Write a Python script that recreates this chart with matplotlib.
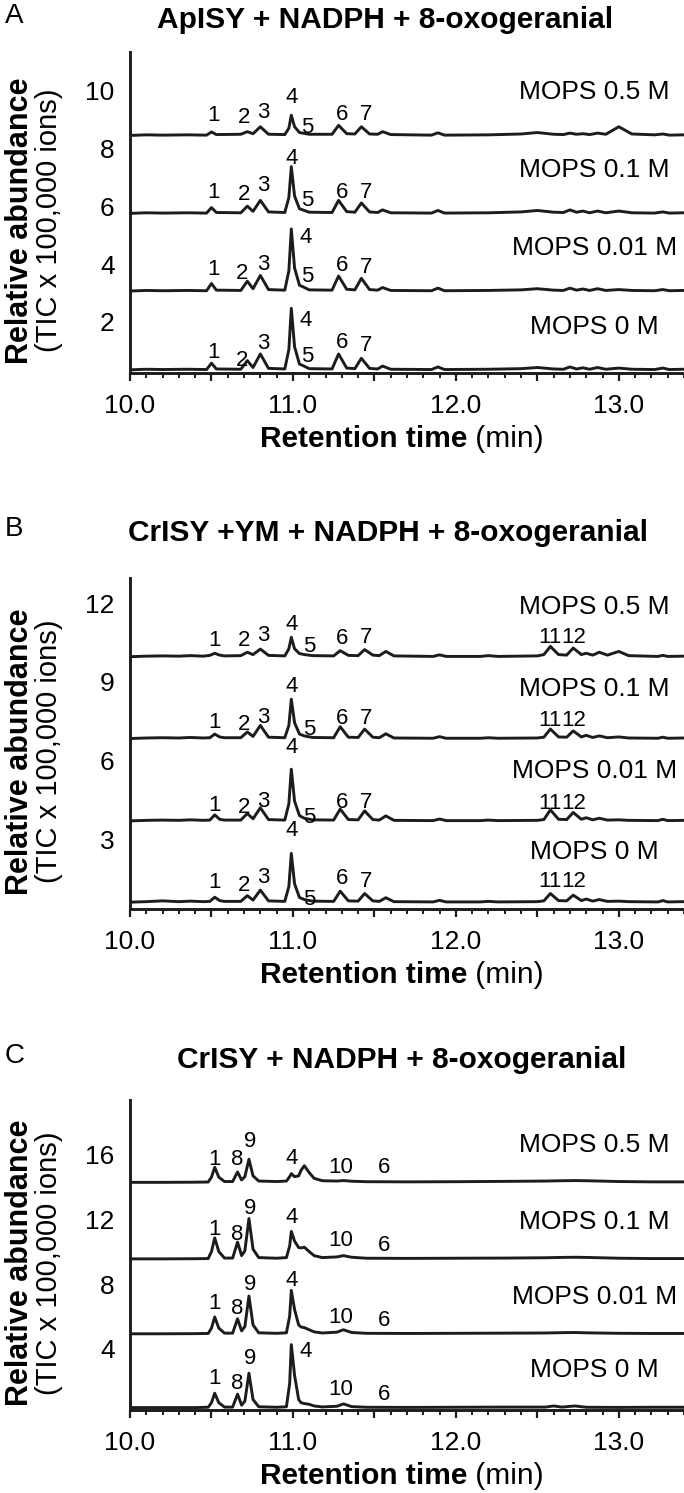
import matplotlib.pyplot as plt
from matplotlib.ticker import MultipleLocator

plt.rcParams['font.family'] = ['Liberation Sans', 'DejaVu Sans']

W, H = 684, 1493

# ---------------- data ----------------
conditions = ['MOPS 0 M', 'MOPS 0.01 M', 'MOPS 0.1 M', 'MOPS 0.5 M']

# panel A: ApISY
tA = [10.00, 10.10, 10.20, 10.35, 10.47, 10.50, 10.53, 10.68, 10.72, 10.755,
      10.80, 10.85, 10.95, 10.975, 10.99, 11.01, 11.04, 11.06, 11.10, 11.24,
      11.28, 11.33, 11.38, 11.42, 11.47, 11.52, 11.55, 11.60, 11.85, 11.89,
      11.93, 12.20, 12.40, 12.50, 12.60, 12.66, 12.70, 12.74, 12.78, 12.82,
      12.87, 12.92, 13.00, 13.08, 13.22, 13.27, 13.31, 13.40]
baseA = [0.34, 3.07, 5.76, 8.46]
A_0M = [0.00, 0.02, 0.01, 0.02, 0.01, 0.23, 0.03, 0.02, 0.32, 0.08,
        0.55, 0.05, 0.03, 0.70, 2.13, 0.80, 0.20, 0.15, 0.04, 0.03,
        0.55, 0.06, 0.04, 0.40, 0.05, 0.03, 0.13, 0.02, 0.01, 0.10,
        0.01, 0.02, 0.04, 0.08, 0.03, 0.02, 0.10, 0.03, 0.07, 0.02,
        0.08, 0.02, 0.06, 0.02, 0.01, 0.06, 0.01, 0.02]
A_001M = [0.00, 0.02, 0.01, 0.02, 0.01, 0.26, 0.03, 0.02, 0.34, 0.08,
          0.54, 0.05, 0.03, 0.70, 2.15, 0.80, 0.20, 0.15, 0.04, 0.03,
          0.52, 0.06, 0.04, 0.44, 0.05, 0.03, 0.12, 0.02, 0.01, 0.10,
          0.01, 0.02, 0.04, 0.08, 0.03, 0.02, 0.10, 0.03, 0.07, 0.02,
          0.08, 0.02, 0.05, 0.02, 0.01, 0.05, 0.01, 0.02]
A_01M = [0.00, 0.02, 0.01, 0.02, 0.01, 0.20, 0.03, 0.02, 0.25, 0.07,
         0.45, 0.05, 0.03, 0.55, 1.62, 0.60, 0.16, 0.12, 0.04, 0.03,
         0.45, 0.06, 0.04, 0.36, 0.05, 0.03, 0.12, 0.02, 0.01, 0.10,
         0.01, 0.02, 0.05, 0.10, 0.04, 0.03, 0.12, 0.04, 0.08, 0.02,
         0.08, 0.02, 0.08, 0.02, 0.01, 0.05, 0.01, 0.02]
A_05M = [0.00, 0.02, 0.01, 0.02, 0.01, 0.12, 0.03, 0.04, 0.13, 0.06,
         0.30, 0.04, 0.03, 0.25, 0.70, 0.30, 0.10, 0.08, 0.04, 0.04,
         0.35, 0.06, 0.05, 0.30, 0.05, 0.04, 0.13, 0.03, 0.01, 0.09,
         0.01, 0.02, 0.05, 0.10, 0.04, 0.03, 0.08, 0.04, 0.06, 0.03,
         0.08, 0.04, 0.30, 0.05, 0.02, 0.05, 0.01, 0.02]

# panel B: CrISY + YM
tB = [10.00, 10.10, 10.20, 10.30, 10.37, 10.45, 10.49, 10.52, 10.55, 10.58,
      10.68, 10.72, 10.755, 10.80, 10.85, 10.95, 10.975, 10.99, 11.01, 11.04,
      11.07, 11.12, 11.25, 11.29, 11.34, 11.40, 11.44, 11.49, 11.53, 11.57,
      11.62, 11.86, 11.90, 11.94, 12.15, 12.20, 12.26, 12.50, 12.54, 12.58,
      12.63, 12.68, 12.72, 12.77, 12.80, 12.84, 12.88, 12.93, 13.00, 13.06,
      13.24, 13.27, 13.30, 13.40]
baseB = [0.60, 3.70, 6.84, 9.96]
B_0M = [0.00, 0.02, 0.05, 0.02, 0.04, 0.02, 0.03, 0.19, 0.06, 0.03,
        0.03, 0.25, 0.08, 0.46, 0.05, 0.03, 0.60, 1.86, 0.70, 0.18,
        0.10, 0.04, 0.03, 0.42, 0.05, 0.04, 0.33, 0.05, 0.03, 0.17,
        0.02, 0.01, 0.07, 0.01, 0.01, 0.03, 0.01, 0.02, 0.05, 0.33,
        0.06, 0.05, 0.27, 0.06, 0.12, 0.04, 0.10, 0.03, 0.04, 0.02,
        0.01, 0.06, 0.01, 0.02]
B_001M = [0.00, 0.02, 0.03, 0.02, 0.04, 0.02, 0.03, 0.23, 0.06, 0.03,
          0.03, 0.28, 0.08, 0.50, 0.05, 0.03, 0.65, 1.97, 0.75, 0.20,
          0.10, 0.04, 0.03, 0.45, 0.05, 0.04, 0.38, 0.05, 0.03, 0.19,
          0.02, 0.01, 0.07, 0.01, 0.01, 0.03, 0.01, 0.02, 0.05, 0.42,
          0.06, 0.05, 0.32, 0.06, 0.12, 0.04, 0.10, 0.03, 0.04, 0.02,
          0.01, 0.06, 0.01, 0.02]
B_01M = [0.00, 0.02, 0.03, 0.02, 0.04, 0.02, 0.03, 0.17, 0.06, 0.03,
         0.03, 0.25, 0.08, 0.50, 0.05, 0.03, 0.50, 1.50, 0.60, 0.17,
         0.10, 0.04, 0.03, 0.45, 0.05, 0.04, 0.36, 0.05, 0.03, 0.18,
         0.02, 0.01, 0.07, 0.01, 0.01, 0.03, 0.01, 0.02, 0.05, 0.36,
         0.06, 0.05, 0.29, 0.06, 0.12, 0.04, 0.10, 0.03, 0.06, 0.02,
         0.01, 0.05, 0.01, 0.02]
B_05M = [0.00, 0.02, 0.03, 0.02, 0.04, 0.02, 0.05, 0.13, 0.06, 0.03,
         0.04, 0.17, 0.08, 0.29, 0.05, 0.03, 0.30, 0.74, 0.30, 0.12,
         0.08, 0.04, 0.03, 0.23, 0.05, 0.04, 0.27, 0.06, 0.04, 0.20,
         0.03, 0.01, 0.07, 0.01, 0.01, 0.04, 0.01, 0.03, 0.08, 0.39,
         0.08, 0.06, 0.33, 0.08, 0.13, 0.06, 0.17, 0.06, 0.20, 0.04,
         0.01, 0.05, 0.01, 0.02]

# panel C: CrISY
tC = [10.00, 10.20, 10.40, 10.48, 10.50, 10.52, 10.545, 10.58, 10.63, 10.66,
      10.685, 10.705, 10.73, 10.755, 10.79, 10.90, 10.96, 10.98, 10.99, 11.01,
      11.035, 11.05, 11.07, 11.10, 11.13, 11.18, 11.27, 11.31, 11.36, 11.45,
      11.70, 12.00, 12.30, 12.55, 12.60, 12.65, 12.73, 12.80, 13.00, 13.20,
      13.40]
baseC = [0.35, 4.92, 9.56, 14.30]
C_0M = [0.00, 0.00, 0.00, 0.02, 0.30, 0.89, 0.30, 0.03, 0.03, 0.83,
        0.15, 0.40, 2.13, 0.50, 0.05, 0.02, 0.05, 1.50, 3.90, 2.00,
        0.50, 0.30, 0.25, 0.20, 0.10, 0.04, 0.08, 0.23, 0.06, 0.02,
        0.01, 0.02, 0.03, 0.03, 0.10, 0.03, 0.10, 0.02, 0.01, 0.02, 0.02]
C_001M = [0.00, 0.00, 0.01, 0.02, 0.35, 1.04, 0.35, 0.04, 0.04, 0.93,
          0.18, 0.45, 2.34, 0.55, 0.06, 0.03, 0.06, 1.10, 2.69, 1.50,
          0.55, 0.42, 0.38, 0.25, 0.12, 0.05, 0.10, 0.25, 0.08, 0.03,
          0.02, 0.03, 0.04, 0.05, 0.06, 0.07, 0.08, 0.06, 0.03, 0.02, 0.02]
C_01M = [0.00, 0.00, 0.01, 0.02, 0.45, 1.30, 0.45, 0.05, 0.05, 1.04,
         0.20, 0.50, 2.50, 0.60, 0.08, 0.04, 0.08, 0.80, 1.70, 1.10,
         0.70, 0.68, 0.72, 0.45, 0.20, 0.08, 0.12, 0.20, 0.10, 0.04,
         0.03, 0.04, 0.05, 0.07, 0.08, 0.09, 0.10, 0.09, 0.04, 0.02, 0.02]
C_05M = [0.00, 0.00, 0.01, 0.02, 0.32, 0.93, 0.32, 0.05, 0.05, 0.64,
         0.15, 0.35, 1.43, 0.40, 0.08, 0.05, 0.08, 0.35, 0.54, 0.35,
         0.40, 0.75, 1.03, 0.60, 0.25, 0.10, 0.08, 0.11, 0.07, 0.04,
         0.03, 0.04, 0.06, 0.08, 0.09, 0.10, 0.11, 0.10, 0.05, 0.03, 0.03]

# peak labels: (text, x, height above the trace baseline)
peaksA = [
    [('1', 10.51, 0.60), ('2', 10.69, 0.32), ('3', 10.82, 0.92), ('4', 11.08, 1.70),
     ('5', 11.09, 0.45), ('6', 11.30, 0.95), ('7', 11.45, 0.85)],
    [('1', 10.51, 0.75), ('2', 10.69, 0.62), ('3', 10.82, 0.93), ('4', 11.08, 1.84),
     ('5', 11.09, 0.52), ('6', 11.30, 0.87), ('7', 11.45, 0.81)],
    [('1', 10.51, 0.72), ('2', 10.70, 0.66), ('3', 10.82, 0.95), ('4', 10.99, 1.90),
     ('5', 11.09, 0.45), ('6', 11.30, 0.72), ('7', 11.45, 0.72)],
    [('1', 10.51, 0.68), ('2', 10.70, 0.62), ('3', 10.82, 0.80), ('4', 10.99, 1.33),
     ('5', 11.09, 0.29), ('6', 11.30, 0.74), ('7', 11.45, 0.74)],
]
peaksB = [
    [('1', 10.52, 0.74), ('2', 10.70, 0.64), ('3', 10.82, 0.93), ('4', 10.99, 2.72),
     ('5', 11.10, 0.10), ('6', 11.30, 0.89), ('7', 11.45, 0.80), ('11', 12.58, 0.80),
     ('12', 12.72, 0.80)],
    [('1', 10.52, 0.60), ('2', 10.70, 0.50), ('3', 10.82, 0.75), ('4', 10.99, 2.80),
     ('5', 11.10, 0.12), ('6', 11.30, 0.70), ('7', 11.45, 0.70), ('11', 12.58, 0.65),
     ('12', 12.72, 0.65)],
    [('1', 10.52, 0.62), ('2', 10.70, 0.55), ('3', 10.82, 0.80), ('4', 10.99, 2.00),
     ('5', 11.10, 0.35), ('6', 11.30, 0.75), ('7', 11.45, 0.75), ('11', 12.58, 0.70),
     ('12', 12.72, 0.70)],
    [('1', 10.52, 0.62), ('2', 10.70, 0.62), ('3', 10.82, 0.80), ('4', 10.99, 1.21),
     ('5', 11.10, 0.39), ('6', 11.30, 0.68), ('7', 11.45, 0.74), ('11', 12.58, 0.74),
     ('12', 12.72, 0.74)],
]
peaksC = [
    [('1', 10.52, 1.80), ('8', 10.66, 1.50), ('9', 10.74, 3.05), ('4', 11.08, 3.45),
     ('10', 11.29, 1.09), ('6', 11.56, 0.78)],
    [('1', 10.52, 1.85), ('8', 10.66, 1.54), ('9', 10.74, 3.08), ('4', 10.99, 3.28),
     ('10', 11.29, 1.03), ('6', 11.56, 0.82)],
    [('1', 10.52, 1.85), ('8', 10.66, 1.54), ('9', 10.74, 3.10), ('4', 10.99, 2.55),
     ('10', 11.29, 1.13), ('6', 11.56, 0.82)],
    [('1', 10.52, 1.40), ('8', 10.66, 1.40), ('9', 10.74, 2.50), ('4', 10.99, 1.50),
     ('10', 11.29, 0.90), ('6', 11.56, 0.90)],
]

panels = [
    dict(letter='A', title='ApISY + NADPH + 8-oxogeranial', t=tA, base=baseA,
         traces=[A_0M, A_001M, A_01M, A_05M], peaks=peaksA, cond_dy=1.5,
         yticks=[2, 4, 6, 8, 10], ylim=(0.23, 11.35), box=(52, 373),
         title_y=20, title_x=385),
    dict(letter='B', title='CrISY +YM + NADPH + 8-oxogeranial', t=tB, base=baseB,
         traces=[B_0M, B_001M, B_01M, B_05M], peaks=peaksB, cond_dy=1.9,
         yticks=[3, 6, 9, 12], ylim=(0.34, 12.96), box=(578, 909),
         title_y=533, title_x=388),
    dict(letter='C', title='CrISY + NADPH + 8-oxogeranial', t=tC, base=baseC,
         traces=[C_0M, C_001M, C_01M, C_05M], peaks=peaksC, cond_dy=2.3,
         yticks=[4, 8, 12, 16], ylim=(0.2, 19.4), box=(1100, 1410),
         title_y=1060, title_x=402),
]

INK = '#1c1c1c'
fig = plt.figure(figsize=(W / 100, H / 100), dpi=100)
renderer = fig.canvas.get_renderer()

for p in panels:
    top, bot = p['box']
    ax = fig.add_axes([130 / W, 1 - bot / H, (W - 130) / W, (bot - top) / H])
    for base, y in zip(p['base'], p['traces']):
        ax.plot(p['t'], [base + v for v in y], color=INK, lw=2.1, solid_joinstyle='round')
    for base, cond, labels in zip(p['base'], conditions, p['peaks']):
        ax.text(12.85, base + p['cond_dy'], cond, ha='center', va='center', fontsize=19)
        for txt, x, dy in labels:
            ax.text(x, base + dy, txt, ha='center', va='center', fontsize=16)

    ax.set_xlim(10.0, 13.4)
    ax.set_ylim(*p['ylim'])
    for s in ['top', 'right']:
        ax.spines[s].set_visible(False)
    for s in ['left', 'bottom']:
        ax.spines[s].set_linewidth(2.1)
        ax.spines[s].set_color(INK)
    ax.set_xticks([10.0, 10.5, 11.0, 11.5, 12.0, 12.5, 13.0])
    ax.set_xticklabels(['10.0', '', '11.0', '', '12.0', '', '13.0'])
    ax.xaxis.set_minor_locator(MultipleLocator(0.1))
    ax.tick_params(axis='x', which='major', direction='out', length=6, width=1.6,
                   labelsize=19, pad=9, color=INK)
    ax.tick_params(axis='x', which='minor', direction='out', length=3.5, width=1.4, color=INK)
    ax.set_yticks(p['yticks'])
    ax.tick_params(axis='y', length=0, labelsize=19, pad=11)

    # x label: bold part + regular part, centred under the axes, ~66 px below the axis
    t1 = ax.text(0, 0, 'Retention time', transform=ax.transAxes, fontsize=21.5,
                 fontweight='bold', va='center', ha='left')
    t2 = ax.text(0, 0, ' (min)', transform=ax.transAxes, fontsize=21.5,
                 va='center', ha='left')
    w1 = t1.get_window_extent(renderer).width
    w2 = t2.get_window_extent(renderer).width
    axw = (W - 130)
    x0 = (402 - 130) / axw - (w1 + w2) / 2 / axw
    ylab = -66 / (bot - top)
    t1.set_position((x0, ylab))
    t2.set_position((x0 + w1 / axw, ylab))

    yc = 1 - (top + bot + 16) / 2 / H
    fig.text(20 / W, yc, 'Relative abundance', rotation=90, fontsize=22,
             fontweight='bold', ha='center', va='center')
    fig.text(49 / W, yc, '(TIC x 100,000 ions)', rotation=90, fontsize=21,
             ha='center', va='center')

    fig.text(p['title_x'] / W, 1 - p['title_y'] / H, p['title'], fontsize=21.5,
             fontweight='bold', ha='center', va='center')
    fig.text(5 / W, 1 - (p['title_y'] - 4) / H, p['letter'], fontsize=20,
             ha='left', va='center')

fig.savefig('out.png', dpi=100)
